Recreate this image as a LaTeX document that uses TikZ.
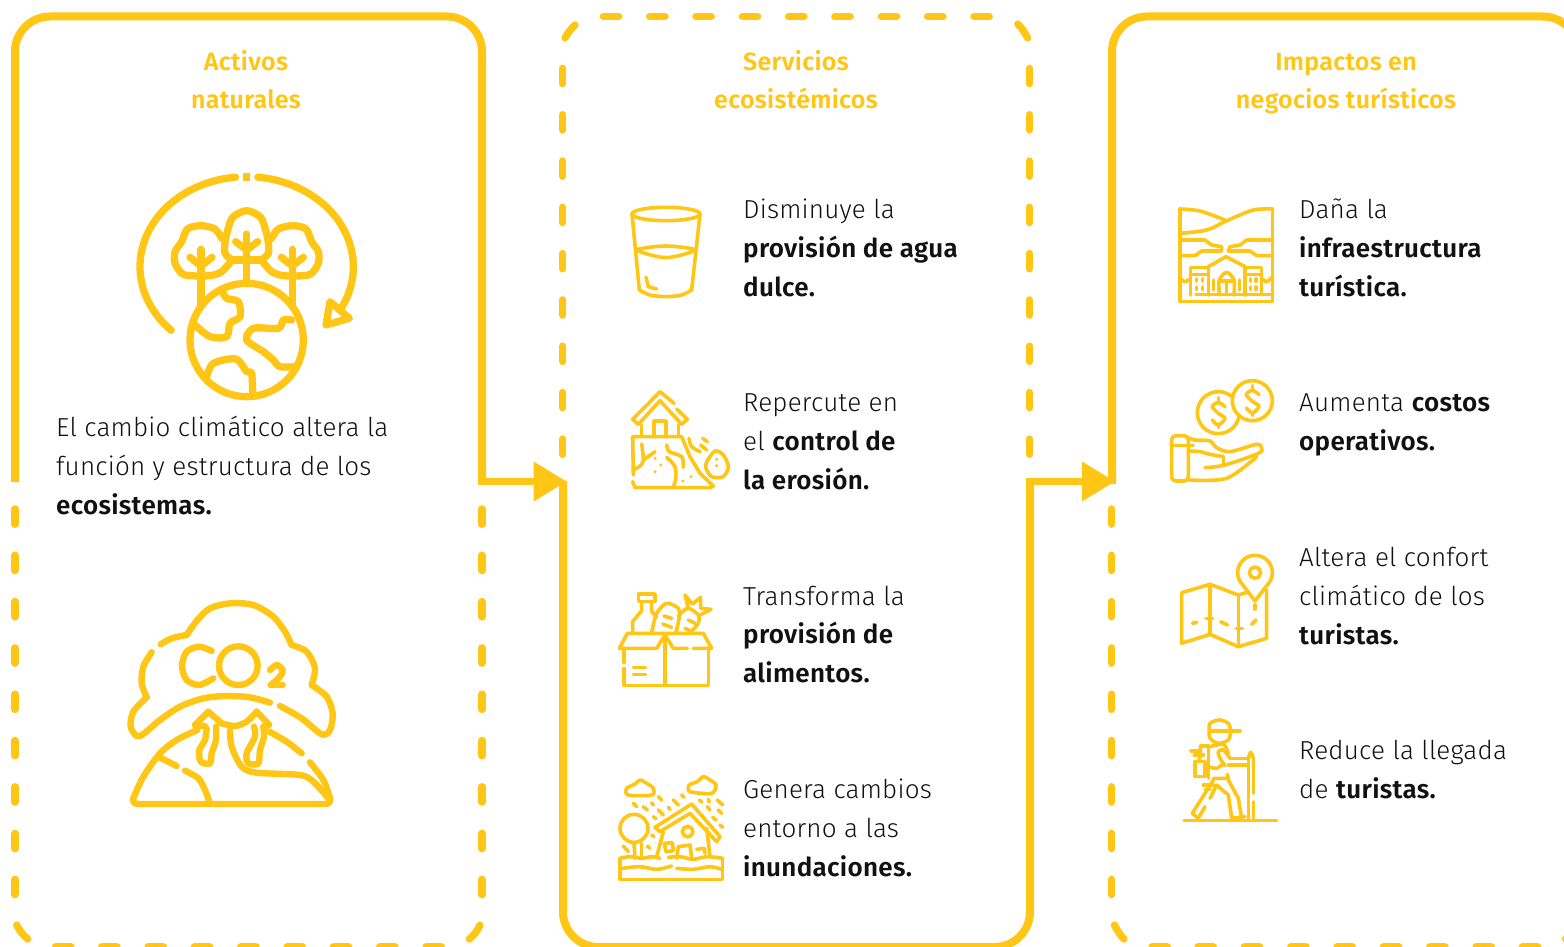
\documentclass[tikz,border=0pt]{standalone}
\usepackage{fontspec}
\setmainfont{Fira Sans}[UprightFont={* Light},BoldFont={* SemiBold},UprightFeatures={LetterSpace=0.8},BoldFeatures={LetterSpace=1.2}]
\usetikzlibrary{arrows.meta}
\definecolor{gold}{HTML}{FFC615}
\definecolor{ink}{HTML}{111111}
\tikzset{
  x=1pt,y=-1pt,
  solidp/.style={draw=gold,line width=8pt,line join=round},
  dashp/.style={draw=gold,line width=7.3pt,line cap=round},
  conn/.style={draw=gold,line width=7pt,-{Triangle[length=33pt,width=38pt,sep=0pt]}},
  title/.style={text=gold,anchor=base,font=\fontsize{25pt}{38pt}\selectfont\bfseries,inner sep=0pt},
  body/.style={text=ink,anchor=north west,align=left,inner sep=0pt,font=\fontsize{26pt}{38.7pt}\selectfont},
  zm/.style 2 args={shift={(#1,#2)},x=0.33333pt,y=-0.33333pt},
  big/.style={draw=gold,line width=7.3pt,line cap=round,line join=round},
  mid/.style={draw=gold,line width=6.4pt,line cap=round,line join=round},
  ic/.style={draw=gold,line width=3.6pt,line cap=round,line join=round},
}
\newcommand{\fl}{\rule{0pt}{20pt}}
\begin{document}
\begin{tikzpicture}
\useasboundingbox (0,0) rectangle (1564,947);
\clip (0,0) rectangle (1564,947);
\fill[white] (0,0) rectangle (1564,947);
% ---------- panels
\draw[solidp] (15,482) -- (15,51.5) .. controls (15,32) and (31,16.5) .. (50,16.5) -- (447,16.5) .. controls (466,16.5) and (482,32) .. (482,51.5) -- (482,484);
\draw[solidp] (563,481) -- (563,912) .. controls (563,931) and (579,947) .. (598,947) -- (995,947) .. controls (1014,947) and (1030,931) .. (1030,912) -- (1030,478);
\draw[solidp] (1112,484) -- (1112,51.5) .. controls (1112,32) and (1128,16.5) .. (1147,16.5) -- (1543,16.5) .. controls (1562,16.5) and (1578,32) .. (1578,51.5) -- (1578,100);
% dashes, first panel
\foreach \y in {516.6,562.9,609.2,655.5,701.8,748.1,794.4,841,887}{
  \draw[dashp] (15,\y-7.7) -- (15,\y+7.7);
  \draw[dashp] (482,\y-7.7) -- (482,\y+7.7);
  \draw[dashp] (1111.5,\y-7.7) -- (1111.5,\y+7.7);
}
\foreach \x in {63.3,109.3,155.7,202,248.3,294.7,341,387.3,433.7}{
  \draw[dashp] (\x-7.7,947) -- (\x+7.7,947);
}
\foreach \x in {1159.7,1205.7,1252,1298.3,1344.7,1391,1437.3,1483.7,1530}{
  \draw[dashp] (\x-7.7,947) -- (\x+7.7,947);
}
\draw[dashp] (16.7,925) .. controls (19,930) and (23,935) .. (27.7,939);
\draw[dashp] (480,925) .. controls (478,930) and (474,935) .. (469.3,939);
\draw[dashp] (1114.5,925) .. controls (1117,930) and (1120,935) .. (1124,939);
\draw[dashp] (1576.3,925) .. controls (1574,930) and (1570,935) .. (1565.6,939);
% dashes, second panel
\foreach \y in {76,122.3,168.6,214.9,261.2,307.5,353.8,400.1,446.7}{
  \draw[dashp] (562.7,\y-7.7) -- (562.7,\y+7.7);
  \draw[dashp] (1029.5,\y-7.7) -- (1029.5,\y+7.7);
}
\foreach \x in {611,657.3,703.6,750,796.3,842.5,889,935.3,981.6}{
  \draw[dashp] (\x-7.7,16.5) -- (\x+7.7,16.5);
}
\draw[dashp] (565,38) .. controls (567.5,33) and (571,29) .. (575,25);
\draw[dashp] (1017.7,24) .. controls (1022,28) and (1025,33) .. (1027.7,38);
% connectors
\coordinate (out1) at (478,481.5); \coordinate (in2) at (566.7,481.5);
\coordinate (out2) at (1026,481.5); \coordinate (in3) at (1115,481.5);
\draw[conn] (out1) -- (in2);
\draw[conn] (out2) -- (in3);
% ---------- titles
\node[title] (t1a) at (246,70.7) {Activos};
\node[title] (t1b) at (246,108.7) {naturales};
\node[title] (t2a) at (796,70.7) {Servicios};
\node[title] (t2b) at (796,108.7) {ecosistémicos};
\node[title] (t3a) at (1346,70.7) {Impactos en};
\node[title] (t3b) at (1346,108.7) {negocios turísticos};
% ---------- body texts
\node[body] (b0) at (56,416.4) {\fl El cambio climático altera la\\función y estructura de los\\\textbf{ecosistemas.}};
\node[body] (b1) at (743,198.4) {\fl Disminuye la\\\textbf{provisión de agua}\\\textbf{dulce.}};
\node[body] (b2) at (743,391.4) {\fl Repercute en\\el \textbf{control de}\\\textbf{la erosión.}};
\node[body] (b3) at (743,585) {\fl Transforma la\\\textbf{provisión de}\\\textbf{alimentos.}};
\node[body] (b4) at (743,778.4) {\fl Genera cambios\\entorno a las\\\textbf{inundaciones.}};
\node[body] (b5) at (1299,198.4) {\fl Daña la\\\textbf{infraestructura}\\\textbf{turística.}};
\node[body] (b6) at (1299,391.4) {\fl Aumenta \textbf{costos}\\\textbf{operativos.}};
\node[body] (b7) at (1299,546.4) {\fl Altera el confort\\climático de los\\\textbf{turistas.}};
\node[body] (b8) at (1299,739.4) {\fl Reduce la llegada\\de \textbf{turistas.}};
% ---------- icon: trees on globe
\begin{scope}[zm={110}{160}]
\draw[big] plot[domain=-45:84,samples=40,smooth] ({410-320*cos(\x)},{320-270*sin(\x)});
\draw[big] plot[domain=96:208,samples=40,smooth] ({410-320*cos(\x)},{320-270*sin(\x)});
\draw[big] (660,425) -- (718,475) -- (648,495) -- cycle;
\fill[gold] (399,38) rectangle (421,62);
\draw[big] (365,300) -- (455,300);
\draw[big] plot[smooth] coordinates {(365,300)(345,280)(345,248)(352,215)(368,172)(410,152)(452,172)(468,215)(475,248)(475,280)(455,300)};
\foreach \s/\o in {1/0,-1/820}{
  \begin{scope}[xshift=\o*0.33333pt,x=\s*0.33333pt]
  \draw[big] plot[smooth] coordinates {(335,235)(315,207)(272,197)(232,207)(215,245)(195,275)(195,310)(215,340)(240,347)(300,347)(335,335)(362,305)};
  \draw[big] (273,268) -- (273,435);
  \draw[big] (240,292) -- (273,318) -- (306,292);
  \end{scope}
}
\draw[big] (410,222) -- (410,360);
\draw[big] (377,245) -- (410,270) -- (443,245);
\draw[big,fill=white] (410,540) circle[radius=170];
\draw[big] plot[smooth] coordinates {(335,390)(350,415)(385,425)(390,470)(360,490)(350,530)(300,530)(255,495)};
\draw[big] plot[smooth] coordinates {(545,480)(520,480)(505,505)(430,505)(410,540)(460,575)(490,600)(510,620)(560,620)};
\draw[big] plot[smooth] coordinates {(290,650)(310,610)(378,597)(410,635)(425,640)(428,700)};
\end{scope}
% ---------- icon: CO2
\begin{scope}[zm={110}{590}]
\draw[mid] plot[smooth] coordinates {(152,163)(185,145)(230,135)};
\draw[mid] plot[smooth] coordinates {(230,135)(262,90)(300,55)(360,40)(430,45)(490,80)(525,125)(545,165)};
\draw[mid] plot[smooth] coordinates {(545,165)(590,185)(615,235)(605,285)};
\draw[mid] plot[smooth] coordinates {(605,285)(650,320)(668,370)(660,420)(635,433)(575,385)(510,348)};
\draw[mid] plot[smooth] coordinates {(480,338)(420,322)(350,318)(280,325)(210,350)(150,390)(100,432)(80,438)(62,410)(70,365)(110,322)};
\draw[mid] plot[smooth] coordinates {(110,322)(95,280)(100,230)(125,187)};
\draw[mid] plot[smooth] coordinates {(305,183)(268,170)(230,185)(216,227)(230,270)(268,285)(310,265)};
\draw[mid] (385,227) ellipse[x radius=58,y radius=58];
\draw[mid] plot[smooth] coordinates {(480,240)(500,225)(518,240)(510,260)(482,285)};
\draw[mid] (482,285) -- (518,285);
\draw[mid] plot[smooth] coordinates {(70,625)(100,560)(150,490)(200,450)(262,420)};
\draw[mid] (255,405) -- (295,365) -- (335,400);
\draw[mid] (255,405) -- (285,408);
\draw[mid] plot[smooth] coordinates {(290,415)(285,450)(268,480)(272,515)(300,520)(305,490)(318,450)(318,410)};
\draw[mid] plot[smooth] coordinates {(335,400)(375,408)(410,395)(440,365)};
\draw[mid] (440,365) -- (478,405) -- (460,410);
\draw[mid] plot[smooth] coordinates {(432,410)(435,440)(410,490)(415,520)(445,520)(450,480)(462,440)(460,410)};
\draw[mid] plot[smooth] coordinates {(478,425)(530,455)(575,490)};
\draw[mid] plot[smooth] coordinates {(600,517)(640,570)(660,625)};
\draw[mid,rounded corners=5pt] (70,625) -- (66,642) -- (664,642) -- (660,625);
\draw[mid] plot[smooth] coordinates {(360,420)(365,470)(395,530)(440,548)(570,555)(610,575)(655,625)};
\draw[mid] (150,503) -- (200,528);
\draw[mid] plot[smooth] coordinates {(225,542)(265,565)(285,600)(300,640)};
\end{scope}
% ---------- icons: glass, erosion
\begin{scope}[zm={610}{190}]
\draw[ic] (168,72) ellipse[x radius=102,y radius=20];
\draw[ic] (66,72) -- (88,300);
\draw[ic] (270,72) -- (245,300);
\draw[ic] plot[smooth] coordinates {(88,300)(120,315)(168,320)(215,315)(245,300)};
\draw[ic] plot[smooth cycle] coordinates {(82,180)(168,168)(255,180)(168,203)};
\draw[ic] (108,262) -- (115,290) -- (140,297);
\draw[ic] (192,640) -- (150,605) -- (68,688) -- (85,703) -- (150,632) -- (215,703) -- (232,688) -- (200,657);
\draw[ic] (95,705) -- (95,740); \draw[ic] (205,705) -- (205,740);
\draw[ic] (132,740) -- (132,693) -- (168,693) -- (168,740);
\draw[ic] (70,855) -- (68,740) -- (215,740) -- (240,800) -- (270,850) -- (310,888) -- (300,893) -- (75,893) -- (68,875);
\draw[ic] plot[smooth] coordinates {(95,762)(100,810)(90,828)(72,838)};
\draw[ic] (100,810) -- (135,785);
\draw[ic] plot[smooth] coordinates {(170,765)(178,785)(215,800)(220,832)};
\draw[ic] plot[smooth] coordinates {(170,802)(195,830)(197,868)(190,890)};
\foreach \a/\b in {135/805,152/825,135/845,218/873,243/860,320/808,320/827}{\fill[gold] (\a,\b) circle[radius=5];}
\draw[ic] plot[smooth cycle] coordinates {(290,815)(315,783)(340,795)(355,830)(340,860)(305,860)(288,835)};
\draw[ic] plot[smooth] coordinates {(237,745)(245,770)(270,785)};
\draw[ic] (272,765) -- (290,780);
\draw[ic] (278,745) -- (292,755);
\end{scope}
% ---------- icons: food box, flood
\begin{scope}[zm={610}{580}]
\draw[ic] (42,210) -- (42,248);
\draw[ic] (42,265) -- (42,316) -- (295,316) -- (295,205);
\draw[ic] (165,170) -- (165,316);
\draw[ic] (232,205) -- (190,205) -- (165,165) -- (140,205) -- (28,205) -- (52,160) -- (280,160) -- (305,205) -- (250,205);
\draw[ic] (70,262) -- (107,262); \draw[ic] (70,283) -- (107,283);
\draw[ic] (68,158) -- (68,125) -- (95,92) -- (95,65);
\draw[ic] (85,42) rectangle (135,65);
\draw[ic] (125,65) -- (125,95) -- (140,110);
\draw[ic] plot[smooth] coordinates {(125,158)(140,100)(170,70)(205,85)(208,110)(198,158)};
\draw[ic] (162,108) -- (185,115); \draw[ic] (158,132) -- (185,142);
\draw[ic] plot[smooth] coordinates {(205,110)(212,100)(235,85)(265,105)(265,130)(240,158)};
\draw[ic] (235,120) -- (255,130); \draw[ic] (225,145) -- (248,155);
\draw[ic] (235,85) -- (225,45) -- (247,72) -- (272,52) -- (272,85) -- (303,88) -- (270,105);
% flood
\draw[ic] plot[smooth cycle] coordinates {(55,645)(50,625)(75,612)(90,600)(110,610)(130,625)(125,645)};
\draw[ic] plot[smooth cycle] coordinates {(240,635)(238,615)(262,605)(280,590)(300,600)(318,615)(305,640)};
\foreach \a/\b/\c/\d in {70/670/80/680,100/680/112/690,125/668/130/675,145/650/155/660,145/690/160/705,130/710/138/716,190/660/205/675,175/682/180/688,215/645/222/652,268/660/275/666,295/658/298/666,322/660/338/675,292/680/300/690,325/690/335/700,308/712/318/720,330/735/338/742,40/798/55/815,112/798/120/805,125/765/132/770}{
  \draw[ic] (\a,\b) -- (\c,\d);
}
\draw[ic] (72,745) circle[radius=42];
\draw[ic] (72,790) -- (75,835); \draw[ic] (95,790) -- (95,835);
\draw[ic] (135,742) -- (245,672) -- (330,770) -- (320,785) -- (240,700) -- (150,755) -- cycle;
\draw[ic] (160,755) -- (140,830); \draw[ic] (290,745) -- (300,830);
\draw[ic] (233,755) circle[radius=16];
\draw[ic] (163,790) -- (187,788) -- (190,812) -- (168,815) -- cycle;
\draw[ic] (200,835) -- (205,800) -- (240,795) -- (245,835);
\draw[ic] (260,808) -- (283,805) -- (285,820);
\draw[ic] (30,835) -- (30,898) -- (338,898) -- (338,835);
\draw[ic] plot[smooth] coordinates {(30,835)(60,830)(95,835)(125,830)(150,835)};
\draw[ic] plot[smooth] coordinates {(175,832)(210,830)(250,838)(290,830)(338,835)};
\draw[ic] plot[smooth] coordinates {(35,865)(90,860)(140,868)(185,858)};
\draw[ic] plot[smooth] coordinates {(200,865)(250,868)(300,860)(335,868)};
\end{scope}
% ---------- icons: resort, coins
\begin{scope}[zm={1160}{195}]
\draw[ic] (60,42) -- (60,320) -- (338,320) -- (338,42);
\draw[ic] plot[smooth] coordinates {(60,42)(120,48)(195,75)};
\draw[ic] plot[smooth] coordinates {(338,42)(280,45)(205,75)(140,105)(60,115)};
\draw[ic] (60,135) -- (135,135) -- (155,150) -- (185,155) -- (185,168) -- (125,168) -- (105,182) -- (60,182);
\draw[ic] (338,135) -- (260,135) -- (240,150) -- (210,155) -- (205,168) -- (270,168) -- (290,182) -- (338,182);
\draw[ic] (145,215) -- (198,185) -- (255,215);
\draw[ic] (92,300) -- (92,218) -- (145,218) -- (145,300);
\draw[ic] (255,300) -- (255,218) -- (305,218) -- (305,300);
\draw[ic] (92,238) -- (145,238); \draw[ic] (255,238) -- (305,238);
\draw[ic] (108,298) -- (335,298);
\draw[ic] plot[smooth] coordinates {(178,300)(178,255)(200,232)(222,255)(222,300)};
\draw[ic] (178,258) -- (222,258); \draw[ic] (200,258) -- (200,300);
\draw[ic] (160,255) -- (160,285); \draw[ic] (238,255) -- (238,285);
\foreach \a/\b in {110/255,127/255,110/280,127/280,272/255,288/255,272/280,288/280}{\draw[ic] (\a,\b-4) -- (\a,\b+4);}
\draw[ic] plot[smooth] coordinates {(60,250)(75,260)(92,250)};
\draw[ic] plot[smooth] coordinates {(305,250)(320,260)(338,245)};
% coins
\draw[ic] (175,653) circle[radius=63];
\draw[ic,fill=white] (277,617) circle[radius=60];
\foreach \dx/\dy in {0/0,102/-36}{
  \begin{scope}[shift={(\dx,\dy)}]
  \draw[ic] plot[smooth] coordinates {(195,635)(175,622)(157,635)(175,655)(195,670)(175,690)(157,675)};
  \draw[ic] (175,608) -- (175,622); \draw[ic] (175,690) -- (175,698);
  \end{scope}
}
% hand
\draw[ic,rounded corners=4pt] (35,722) rectangle (85,858);
\draw[ic] (38,752) -- (100,752);
\draw[ic] plot[smooth] coordinates {(85,728)(105,735)(150,738)(170,758)(210,770)(290,748)(305,760)(295,775)(195,810)(135,818)};
\draw[ic] (190,785) -- (190,805);
\draw[ic] plot[smooth] coordinates {(88,855)(200,850)(290,785)};
\draw[ic] plot[smooth] coordinates {(88,768)(120,770)(150,778)(190,785)};
\end{scope}
% ---------- icons: map, hiker
\begin{scope}[zm={1160}{545}]
\draw[ic] (258,143) -- (235,150) -- (150,118) -- (65,143) -- (65,295) -- (150,268) -- (235,305) -- (320,280) -- (320,135);
\draw[ic] (150,118) -- (150,268); \draw[ic] (235,150) -- (235,305);
\foreach \a/\b/\c/\d in {97/235/110/232,138/220/158/220,182/230/203/240,228/250/248/250,275/238/288/225,285/180/285/192}{\draw[ic] (\a,\b) -- (\c,\d);}
\draw[ic,fill=white] (285,168) -- plot[domain=150:390,samples=40] ({285+52*cos(\x)},{83+52*sin(\x)}) -- cycle;
\draw[ic] (285,83) circle[radius=17];
% hiker
\draw[ic] plot[smooth] coordinates {(148,558)(150,535)(178,525)(205,535)(212,558)};
\draw[ic] (148,558) -- (240,558);
\draw[ic] plot[smooth] coordinates {(148,558)(150,580)(175,595)(205,585)(212,560)};
\draw[ic] (145,603) -- (145,700);
\draw[ic] (122,603) -- (145,603); \draw[ic] (122,603) -- (118,650);
\draw[ic] plot[smooth] coordinates {(150,605)(190,598)(205,625)};
\draw[ic] plot[smooth] coordinates {(195,662)(180,640)(175,620)(190,615)(210,640)};
\draw[ic] (210,640) -- (265,640); \draw[ic] (205,660) -- (265,660);
\draw[ic] plot[smooth] coordinates {(265,640)(272,622)(280,640)};
\draw[ic] (265,640) -- (265,820); \draw[ic] (280,640) -- (280,745); \draw[ic] (280,770) -- (280,820);
\draw[ic] (105,650) rectangle (135,695);
\draw[ic] plot[smooth] coordinates {(145,665)(170,670)(190,655)};
\draw[ic] (160,700) -- (205,700) -- (202,688);
\draw[ic] (160,705) -- (97,805) -- (115,820) -- (135,785);
\draw[ic] (150,760) -- (170,720) -- (205,750) -- (215,820);
\draw[ic] (205,705) -- (235,760) -- (245,820);
\draw[ic] (215,820) -- (255,815);
\draw[ic] (72,827) -- (350,827);
\foreach \a/\b/\c/\d in {93/618/118/618,103/630/130/630,130/720/160/720,135/733/150/733}{\draw[ic] (\a,\b) -- (\c,\d);}
\end{scope}
\end{tikzpicture}
\end{document}
